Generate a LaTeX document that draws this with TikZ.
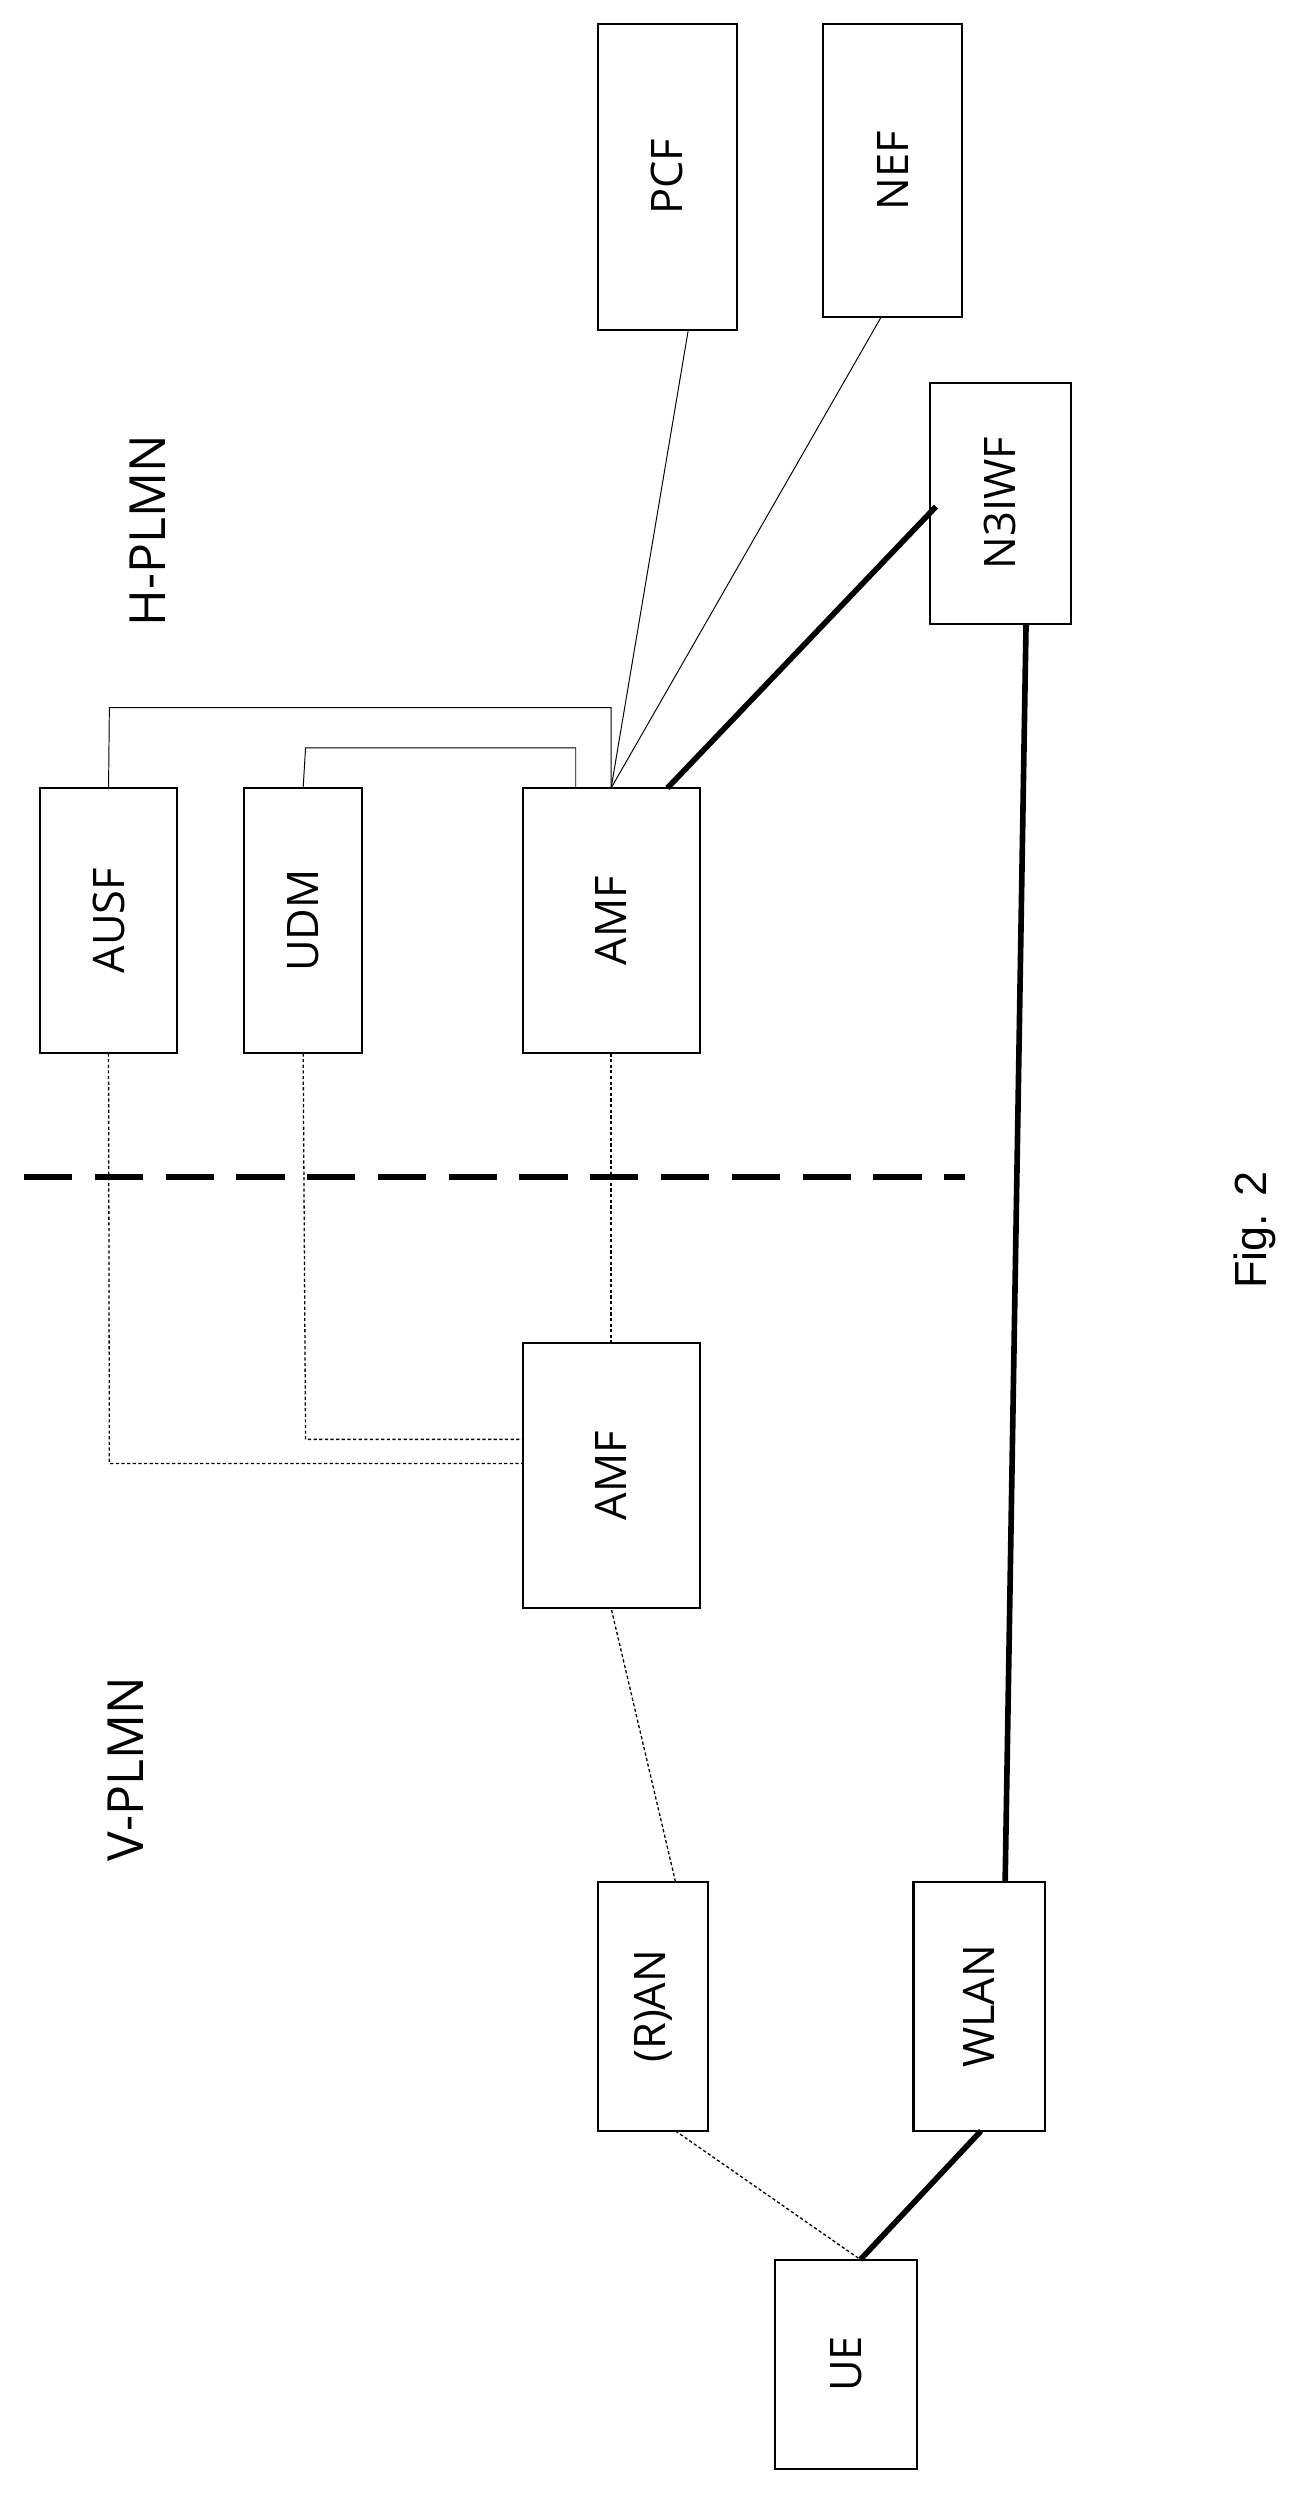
\documentclass[tikz,border=0pt]{standalone}
\usepackage{fontspec}
\setmainfont{Open Sans}
\newfontfamily\arialf{Liberation Sans}
\begin{document}
\begin{tikzpicture}[x=1pt,y=-1pt,
 box/.style={draw,line width=1.3pt,inner sep=0pt},
 lbl/.style={rotate=90,font=\fontsize{27}{30}\selectfont},
 big/.style={rotate=90,font=\fontsize{31}{34}\selectfont},
 thin/.style={line width=0.6pt},
 dot/.style={line width=0.8pt,dash pattern=on 2pt off 1.5pt},
 thick/.style={line width=3.5pt}]
\useasboundingbox (0,0) rectangle (806,1557);
\newcommand\bx[6]{\draw[box] (#2,#3) rectangle (#4,#5); \node[lbl] (#1) at ({(#2+#4)/2},{(#3+#5)/2}) {#6};
 \coordinate (#1-t) at ({(#2+#4)/2},#3); \coordinate (#1-b) at ({(#2+#4)/2},#5);}
\bx{pcf}{372}{15}{458}{205}{PCF}
\bx{nef}{512}{15}{598}{197}{NEF}
\bx{n3}{578}{238}{666}{388}{N3IWF}
\bx{ausf}{25}{490}{110}{655}{AUSF}
\bx{udm}{152}{490}{225}{655}{UDM}
\bx{amfh}{325}{490}{435}{655}{AMF}
\bx{amfv}{325}{835}{435}{1000}{AMF}
\bx{ran}{372}{1170}{440}{1325}{(R)AN}
\bx{wlan}{568}{1170}{650}{1325}{WLAN}
\bx{ue}{482}{1405}{570}{1535}{UE}
\node[big] (h) at (92,330) {H-PLMN};
\node[big] (v) at (78,1100) {V-PLMN};
\node[rotate=90,font=\arialf\fontsize{28}{32}\selectfont] (fig) at (780,765) {Fig. 2};
\draw[line width=4pt,dash pattern=on 30pt off 14pt] (15,732) -- (600,732);
\coordinate (a1) at (380,490); \coordinate (a2) at (358,490);
\draw[thin] (ausf-t) -- (68,440) -| (a1);
\draw[thin] (udm-t) -- (190,465) -| (a2);
\draw[thin] (428,205) -- (a1);
\draw[thin] (548,197) -- (a1);
\coordinate (a3) at (415,490); \coordinate (n3l) at (582,315);
\draw[thick] (a3) -- (n3l);
\coordinate (n3b) at (638,388); \coordinate (wt) at (625,1170);
\draw[thick] (n3b) -- (wt);
\coordinate (wb) at (610,1325); \coordinate (uet) at (535,1405);
\draw[thick] (wb) -- (uet);
\coordinate (rb) at (420,1325); \coordinate (rt) at (420,1170);
\coordinate (vb) at (380,1000); \coordinate (vt) at (380,835); \coordinate (hb) at (380,655);
\draw[dot] (rb) -- (uet);
\draw[dot] (rt) -- (vb);
\draw[dot] (hb) -- (vt);
\draw[dot] (udm-b) -- (190,895) -- (325,895);
\draw[dot] (ausf-b) -- (68,910) -- (325,910);
\end{tikzpicture}
\end{document}
